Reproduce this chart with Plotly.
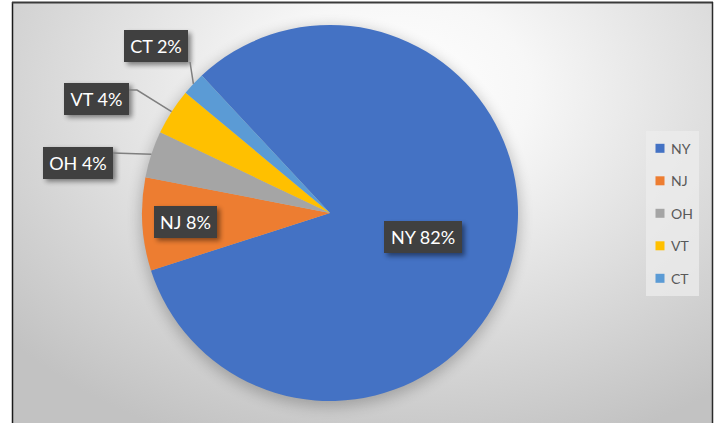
import base64
import math
import plotly.graph_objects as go

# ---- data -------------------------------------------------------------
states = ["NY", "NJ", "OH", "VT", "CT"]
shares = [82, 8, 4, 4, 2]
colors = ["#4472C4", "#ED7D31", "#A5A5A5", "#FFC000", "#5B9BD5"]

# ---- geometry (pixels) ------------------------------------------------
W, H = 720, 423
CX, CY, R = 330, 213, 188
ROTATION = 317          # first slice starts here, clockwise from 12 o'clock

total = sum(shares)
pcts = [round(v / total * 100) for v in shares]
texts = [f"{s} {p}%" for s, p in zip(states, pcts)]

# slice mid angles, clockwise from 12 o'clock
mids = []
acc = ROTATION
for v in shares:
    span = v / total * 360
    mids.append(acc + span / 2)
    acc += span


def polar(angle, dist):
    t = math.radians(angle)
    return CX + dist * math.sin(t), CY - dist * math.cos(t)


# label placement: ("in", radial fraction) or ("out", (x, y) box centre, elbow points)
placement = [
    ("in", 0.51, None),
    ("in", 0.77, None),
    ("out", (78, 162.5), [(113, 153)]),
    ("out", (96.5, 98.5), [(137, 90), (129, 90)]),
    ("out", (156, 46), [(190, 62)]),
]
box_w = [78, 63, 70, 65, 64]
box_h = 32

label_centres = []
leaders = []
for i, (kind, where, elbow) in enumerate(placement):
    if kind == "in":
        label_centres.append(polar(mids[i], where * R))
    else:
        label_centres.append(where)
        start = polar(mids[i], R)
        pts = [start] + elbow
        leaders.append("M " + " L ".join(f"{x:.1f},{y:.1f}" for x, y in pts))

# ---- background: radial grey gradient with a soft shadow under the pie ----
bg_svg = f"""<svg xmlns='http://www.w3.org/2000/svg' width='699' height='420' viewBox='13 3 699 420'>
<defs>
<radialGradient id='g' gradientUnits='userSpaceOnUse' cx='400' cy='90' r='520'
 gradientTransform='translate(400 90) scale(1 0.73) translate(-400 -90)'>
<stop offset='0' stop-color='#ffffff'/>
<stop offset='0.25' stop-color='#f7f7f7'/>
<stop offset='1' stop-color='#c2c2c2'/>
</radialGradient>
<filter id='b' x='-30%' y='-30%' width='160%' height='160%'><feGaussianBlur stdDeviation='7'/></filter>
</defs>
<rect x='13' y='3' width='699' height='420' fill='url(#g)'/>
<circle cx='{CX}' cy='{CY + 4}' r='{R + 2}' fill='#000' opacity='0.22' filter='url(#b)'/>
</svg>"""

# drop shadows of the label boxes
shadow_rects = "".join(
    f"<rect x='{cx - w / 2 + 3:.1f}' y='{cy - box_h / 2 + 3:.1f}' width='{w}' height='{box_h}' "
    f"fill='#000' opacity='0.45' filter='url(#s)'/>"
    for (cx, cy), w in zip(label_centres, box_w)
)
shadow_svg = f"""<svg xmlns='http://www.w3.org/2000/svg' width='{W}' height='{H}'>
<defs><filter id='s' x='-30%' y='-60%' width='160%' height='220%'><feGaussianBlur stdDeviation='2.5'/></filter></defs>
{shadow_rects}
</svg>"""


def data_uri(svg):
    return "data:image/svg+xml;base64," + base64.b64encode(svg.encode()).decode()


# ---- figure -----------------------------------------------------------
fig = go.Figure()

# empty trace so the pixel-space axes exist for shapes and annotations
fig.add_trace(go.Scatter(x=[], y=[], showlegend=False, hoverinfo="skip"))

fig.add_trace(go.Pie(
    labels=states,
    values=shares,
    marker=dict(colors=colors, line=dict(width=0)),
    sort=False,
    direction="clockwise",
    rotation=ROTATION,
    textinfo="none",
    hoverinfo="label+percent",
    showlegend=False,
    domain=dict(x=[(CX - R) / W, (CX + R) / W],
                y=[1 - (CY + R) / H, 1 - (CY - R) / H]),
))

shapes = []
# chart frame
shapes.append(dict(type="line", xref="x", yref="y", x0=12.5, x1=12.5, y0=2, y1=H,
                   line=dict(color="#1a1a1a", width=1.5), layer="above"))
shapes.append(dict(type="line", xref="x", yref="y", x0=12, x1=713, y0=2.5, y1=2.5,
                   line=dict(color="#3a3a3a", width=2), layer="above"))
shapes.append(dict(type="line", xref="x", yref="y", x0=712.5, x1=712.5, y0=2, y1=H,
                   line=dict(color="#2a2a2a", width=1.5), layer="above"))
# leader lines
for p in leaders:
    shapes.append(dict(type="path", xref="x", yref="y", path=p,
                       line=dict(color="#7f7f7f", width=1.5), layer="above"))

# legend block
LEG_X0, LEG_X1, LEG_Y0, LEG_Y1 = 646, 699, 131, 296
LEG_Y_FIRST, LEG_STEP = 148.3, 32.5
shapes.append(dict(type="rect", xref="x", yref="y", x0=LEG_X0, x1=LEG_X1, y0=LEG_Y0, y1=LEG_Y1,
                   fillcolor="rgba(236,236,236,0.75)", line=dict(width=0), layer="above"))
annotations = []
for i, (name, col) in enumerate(zip(states, colors)):
    yc = LEG_Y_FIRST + i * LEG_STEP
    shapes.append(dict(type="rect", xref="x", yref="y", x0=655.5, x1=664.5, y0=yc - 4.5, y1=yc + 4.5,
                       fillcolor=col, line=dict(width=0), layer="above"))
    annotations.append(dict(x=669, y=yc, xref="x", yref="y", xanchor="left", yanchor="middle",
                            text=name, showarrow=False,
                            font=dict(family="Lato", size=14, color="#595959")))

# data labels
for (cx, cy), w, t in zip(label_centres, box_w, texts):
    annotations.append(dict(x=cx, y=cy, xref="x", yref="y", xanchor="center", yanchor="middle",
                            text=t, showarrow=False, width=w, height=box_h,
                            bgcolor="#404040", borderwidth=0, borderpad=0,
                            font=dict(family="Lato", size=18, color="#ffffff")))

fig.update_layout(
    width=W, height=H,
    margin=dict(l=0, r=0, t=0, b=0),
    paper_bgcolor="#ffffff",
    plot_bgcolor="rgba(0,0,0,0)",
    xaxis=dict(range=[0, W], visible=False, fixedrange=True, domain=[0, 1]),
    yaxis=dict(range=[H, 0], visible=False, fixedrange=True, domain=[0, 1]),
    images=[
        dict(source=data_uri(bg_svg), xref="x", yref="y", x=13, y=3, sizex=699, sizey=420,
             sizing="stretch", xanchor="left", yanchor="top", layer="below"),
        dict(source=data_uri(shadow_svg), xref="x", yref="y", x=0, y=0, sizex=W, sizey=H,
             sizing="stretch", xanchor="left", yanchor="top", layer="above"),
    ],
    shapes=shapes,
    annotations=annotations,
    showlegend=False,
)

fig.write_html("out.html")
